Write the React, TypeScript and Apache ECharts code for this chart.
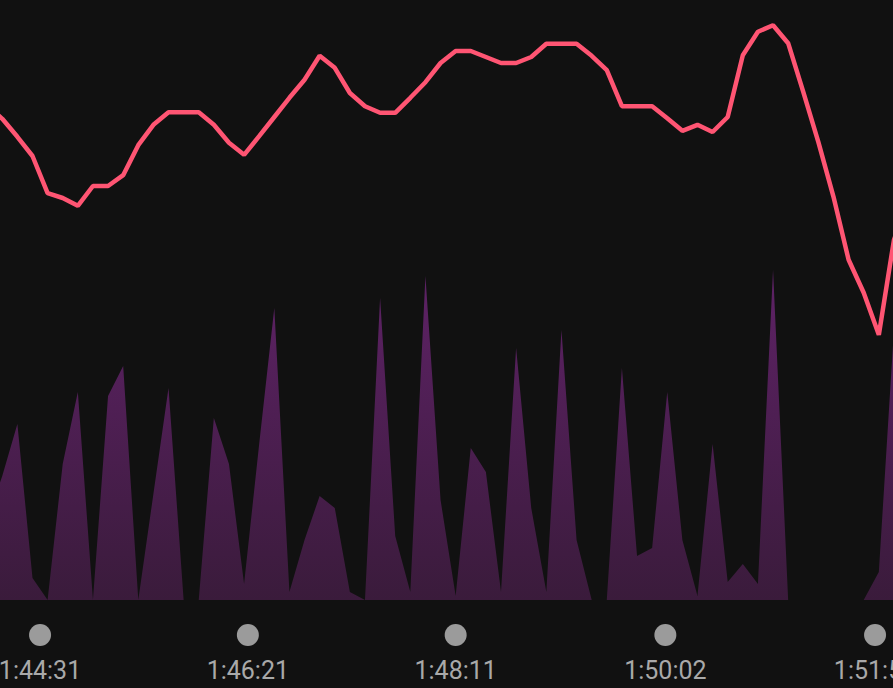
import React, { useEffect, useRef } from "react";
import * as echarts from "echarts";

// Sample times (seconds of elapsed time), one sample every 8 s
const SAMPLE_START_SEC = 6251;
const SAMPLE_STEP_SEC = 8;

// Heart rate (bpm) per sample
const heartRate = [
  182.5, 180.2, 177.2, 174.0, 167.8, 167.0, 165.7, 169.0, 169.0, 170.8,
  175.8, 179.2, 181.3, 181.3, 181.3, 179.2, 176.2, 174.2, 177.3, 180.5,
  183.7, 186.7, 190.7, 188.7, 184.5, 182.3, 181.2, 181.2, 183.7, 186.3,
  189.5, 191.5, 191.5, 190.5, 189.5, 189.5, 190.5, 192.7, 192.7, 192.7,
  190.7, 188.3, 182.3, 182.3, 182.3, 180.3, 178.2, 179.2, 178.0, 180.5,
  190.8, 194.7, 195.8, 192.8, 184.7, 176.3, 167.2, 156.7, 151.2, 144.2,
  160.0, 166.7,
];

// Secondary metric (area) per sample
const effort = [
  40, 62, 88, 11, 0, 68, 104, 0, 102, 117,
  0, 53, 106, 0, 0, 91, 68, 8, 78, 146,
  4, 30, 52, 46, 4, 0, 151, 32, 4, 162,
  50, 2, 76, 64, 4, 126, 46, 4, 135, 30,
  0, 0, 116, 22, 26, 104, 30, 2, 78, 9,
  18, 8, 165, 0, 0, 0, 0, 0, 0, 14,
  135, 150,
];

// Axis tick labels
const tickLabels = ["1:44:31", "1:46:21", "1:48:11", "1:50:02", "1:51:53"];

const X_MIN = 6249.8;
const X_MAX = 6722.5;

function toSeconds(label: string): number {
  const [h, m, s] = label.split(":").map(Number);
  return h * 3600 + m * 60 + s;
}

function toLabel(sec: number): string {
  const r = Math.round(sec);
  const h = Math.floor(r / 3600);
  const m = Math.floor((r % 3600) / 60);
  const s = r % 60;
  return `${h}:${String(m).padStart(2, "0")}:${String(s).padStart(2, "0")}`;
}

export default function App() {
  const ref = useRef<HTMLDivElement>(null);

  useEffect(() => {
    if (!ref.current) return;
    const chart = echarts.init(ref.current, undefined, { renderer: "svg" });
    const times = heartRate.map((_, i) => SAMPLE_START_SEC + (i - 1) * SAMPLE_STEP_SEC);
    const hrData = heartRate.map((v, i) => [times[i], v]);
    const effData = effort.map((v, i) => [times[i], v]);

    chart.setOption({
      animation: false,
      backgroundColor: "#111111",
      grid: {
        left: 0,
        right: 0,
        top: 0,
        bottom: 88,
        containLabel: false,
        outerBoundsMode: "none",
      },
      xAxis: {
        type: "value",
        min: X_MIN,
        max: X_MAX,
        axisLine: { show: false },
        axisTick: { show: false },
        splitLine: { show: false },
        axisLabel: {
          customValues: tickLabels.map(toSeconds),
          margin: 24,
          hideOverlap: false,
          formatter: (v: number) => `{dot|}\n{t|${toLabel(v)}}`,
          rich: {
            dot: {
              width: 22,
              height: 22,
              lineHeight: 22,
              borderRadius: 11,
              backgroundColor: "#9b9b9b",
            },
            t: {
              fontFamily: "Roboto",
              fontSize: 25,
              color: "#a9a9a9",
              lineHeight: 48,
            },
          },
        },
      },
      yAxis: [
        { type: "value", min: 100, max: 200, show: false },
        { type: "value", min: 0, max: 300, show: false },
      ],
      series: [
        {
          type: "line",
          yAxisIndex: 1,
          data: effData,
          symbol: "none",
          lineStyle: { width: 0, opacity: 0 },
          areaStyle: {
            opacity: 1,
            color: new echarts.graphic.LinearGradient(0, 0, 0, 1, [
              { offset: 0, color: "#5e2266" },
              { offset: 1, color: "#3a1b3b" },
            ]),
          },
          z: 1,
        },
        {
          type: "line",
          yAxisIndex: 0,
          data: hrData,
          symbol: "none",
          lineStyle: { width: 4.5, color: "#ff5573" },
          z: 2,
        },
      ],
    });
    return () => chart.dispose();
  }, []);

  return (
    <div
      ref={ref}
      style={{ position: "fixed", left: 0, top: 0, width: 893, height: 688 }}
    />
  );
}
